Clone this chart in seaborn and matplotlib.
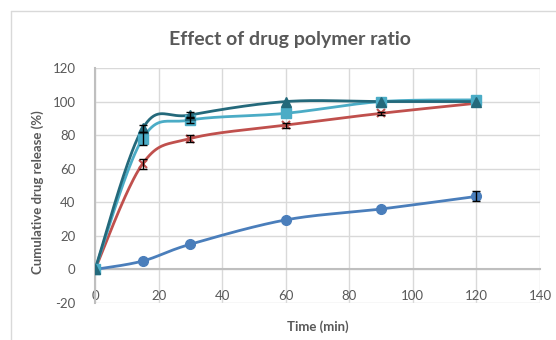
import numpy as np
import pandas as pd
import matplotlib
matplotlib.use("Agg")
import matplotlib.pyplot as plt
import seaborn as sns

# ---- data ----
time = [0, 15, 30, 60, 90, 120]
s1 = [0, 5, 15, 29.5, 36, 43.5]
s1_err = [0, 0, 0, 0, 0, 3]
s2 = [0, 63, 78, 86, 93, 99]
s2_err = [0, 3, 2, 1.5, 1, 0]
s3 = [0, 78, 89, 93, 100, 101]
s3_err = [0, 4, 2, 0, 0, 0]
s4 = [0, 84, 92, 100, 100, 100]
s4_err = [0, 2, 2, 0, 0, 0]

series_names = ["F1", "F2", "F3", "F4"]
series_vals = [s1, s2, s3, s4]
series_errs = [s1_err, s2_err, s3_err, s4_err]
colors = ["#4a7ebb", "#c0504d", "#4bacc6", "#24697b"]
markers = ["o", "x", "s", "^"]
msizes = [7, 6, 7, 7]

x_ticks = [0, 20, 40, 60, 80, 100, 120, 140]
y_ticks = [-20, 0, 20, 40, 60, 80, 100, 120]

sns.set_theme(style="white")
plt.rcParams["font.family"] = ["Lato", "DejaVu Sans"]

W, H = 556, 340
fig = plt.figure(figsize=(W / 100, H / 100), dpi=100)
ax = fig.add_axes([95 / W, 1 - 303 / H, (540 - 95) / W, (303 - 68) / H])

# outer chart frame (top & left visible)
fig.add_artist(plt.Line2D([11 / W, 11 / W], [0, 1 - 11 / H], transform=fig.transFigure,
                          color="#d9d9d9", lw=1))
fig.add_artist(plt.Line2D([11 / W, 1], [1 - 11 / H, 1 - 11 / H], transform=fig.transFigure,
                          color="#d9d9d9", lw=1))

sx, sy = 445 / 140, 235 / 140


def smooth(xs, ys, n=40):
    P = np.column_stack([np.asarray(xs, float) * sx, np.asarray(ys, float) * sy])
    P = np.vstack([P[0], P, P[-1]])
    out = []
    for i in range(1, len(P) - 2):
        p0, p1, p2, p3 = P[i - 1], P[i], P[i + 1], P[i + 2]
        t = np.linspace(0, 1, n)[:, None]
        c = 0.5 * ((2 * p1) + (-p0 + p2) * t + (2 * p0 - 5 * p1 + 4 * p2 - p3) * t ** 2
                   + (-p0 + 3 * p1 - 3 * p2 + p3) * t ** 3)
        out.append(c if i == 1 else c[1:])
    out = np.vstack(out)
    return out[:, 0] / sx, out[:, 1] / sy


for k, (name, vals, errs, col, mk, ms) in enumerate(zip(series_names, series_vals, series_errs,
                                                       colors, markers, msizes)):
    xs_s, ys_s = smooth(time, vals)
    df = pd.DataFrame({"x": xs_s, "y": ys_s})
    sns.lineplot(data=df, x="x", y="y", sort=False, estimator=None, ax=ax,
                 color=col, lw=2, zorder=3 + k * 0.1)
    if mk == "x":
        ax.plot(time, vals, linestyle="none", marker=mk, ms=ms, mew=1.5,
                color=col, zorder=5 + k * 0.1)
    else:
        ax.plot(time, vals, linestyle="none", marker=mk, ms=ms, color=col,
                mec=col, zorder=5 + k * 0.1)
    e = np.asarray(errs, float)
    m = e > 0
    if m.any():
        ax.errorbar(np.asarray(time)[m], np.asarray(vals)[m], yerr=e[m], fmt="none",
                    ecolor="black", elinewidth=1, capsize=3, capthick=1, zorder=6)

ax.set_xlim(0, 140)
ax.set_ylim(-20, 120)
ax.set_xticks(x_ticks)
ax.set_yticks(y_ticks)
ax.set_xticklabels([str(v) for v in x_ticks])
ax.set_yticklabels([str(v) for v in y_ticks])
ax.grid(True, color="#d9d9d9", lw=1)
ax.set_axisbelow(True)

for s in ["top", "right"]:
    ax.spines[s].set_visible(False)
ax.spines["bottom"].set_position(("data", 0))
ax.spines["bottom"].set_color("#bfbfbf")
ax.spines["bottom"].set_linewidth(1.5)
ax.spines["left"].set_color("#bfbfbf")
ax.spines["left"].set_linewidth(1.5)

ax.tick_params(axis="x", length=0, pad=15, labelsize=9.5, colors="#595959")
ax.tick_params(axis="y", length=0, pad=14, labelsize=9.5, colors="#595959")

ax.set_xlabel("Time (min)", fontsize=9.5, fontweight="bold", color="#595959")
ax.xaxis.set_label_coords(0.5, -0.075)
ax.set_ylabel("Cumulative drug release (%)", fontsize=9.5, fontweight="bold",
              color="#595959")
ax.yaxis.set_label_coords(-0.115, 0.47)

fig.text(290 / W, 1 - 40 / H, "Effect of drug polymer ratio", ha="center", va="center",
         fontsize=14, fontweight="bold", color="#595959")

fig.savefig("out.png", dpi=100)
